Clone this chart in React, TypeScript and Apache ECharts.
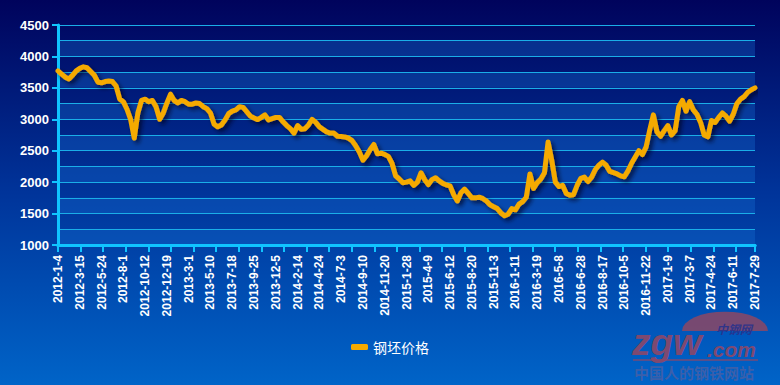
import React, { useEffect, useRef } from "react";
import * as echarts from "echarts";

const tickLabels = [
  "2012-1-4", "2012-3-15", "2012-5-24", "2012-8-1", "2012-10-12", "2012-12-19",
  "2013-3-1", "2013-5-10", "2013-7-18", "2013-9-25", "2013-12-5", "2014-2-14",
  "2014-4-24", "2014-7-3", "2014-9-10", "2014-11-20", "2015-1-28", "2015-4-9",
  "2015-6-12", "2015-8-20", "2015-11-3", "2016-1-11", "2016-3-19", "2016-5-8",
  "2016-6-28", "2016-8-17", "2016-10-5", "2016-11-22", "2017-1-9", "2017-3-7",
  "2017-4-24", "2017-6-11", "2017-7-29",
];

const pointsPerLabel = 6;

const prices = [
  3770, 3720, 3670, 3640, 3700, 3770, 3810, 3835, 3820, 3760,
  3700, 3590, 3580, 3600, 3610, 3600, 3530, 3320, 3280, 3160,
  3000, 2700, 3100, 3300, 3320, 3280, 3300, 3200, 3000, 3100,
  3260, 3400, 3300, 3260, 3300, 3280, 3240, 3240, 3260, 3250,
  3200, 3170, 3100, 2920, 2880, 2910, 2990, 3090, 3130, 3150,
  3200, 3190, 3120, 3050, 3020, 2995, 3030, 3070, 2990, 3010,
  3030, 3030, 2960, 2900, 2850, 2780, 2900, 2840, 2850, 2910,
  3000, 2950, 2880, 2840, 2800, 2780, 2780, 2730, 2725, 2720,
  2700, 2660, 2580, 2480, 2350, 2420, 2520, 2600, 2450, 2460,
  2440, 2410, 2300, 2100, 2050, 1990, 2000, 2020, 1950, 2000,
  2150, 2040, 1960, 2040, 2070, 2020, 1980, 1955, 1940, 1800,
  1700, 1830, 1890, 1820, 1750, 1750, 1760, 1740, 1700, 1640,
  1610, 1580, 1510, 1465, 1490, 1580, 1560, 1650, 1690, 1760,
  2130, 1900, 1990, 2050, 2150, 2640, 2350, 2000, 1930, 1950,
  1820, 1790, 1800, 1950, 2060, 2080, 2010, 2080, 2200, 2270,
  2320, 2270, 2170, 2150, 2130, 2100, 2085, 2180, 2300, 2400,
  2500, 2440, 2560, 2830, 3070, 2800, 2730, 2820, 2900, 2750,
  2820, 3200, 3300, 3130, 3280, 3150, 3080, 2950, 2750, 2720,
  2980, 2950, 3030, 3100, 3050, 2970, 3080, 3250, 3320, 3360,
  3430, 3470, 3500,
];

const seriesName = "钢坯价格";
const tickMarkSpan = 30.84; // x-axis tick marks are spaced independently of the labels

export default function App() {
  const ref = useRef<HTMLDivElement>(null);
  useEffect(() => {
    if (!ref.current) return;
    const chart = echarts.init(ref.current, null, { renderer: "svg" });
    const lastIndex = prices.length - 1;
    const cyan = "#10c4ff";
    const grid = "#1aaee8";
    const option: any = {
      animation: false,
      backgroundColor: new echarts.graphic.LinearGradient(0, 0, 0, 1, [
        { offset: 0, color: "#00035c" },
        { offset: 0.5, color: "#00349a" },
        { offset: 1, color: "#0064c8" },
      ]),
      grid: { left: 58, right: 25, top: 25, bottom: 140, containLabel: false },
      legend: {
        data: [seriesName],
        bottom: 26,
        left: "center",
        icon: "roundRect",
        itemWidth: 17,
        itemHeight: 6,
        textStyle: { color: "#ffffff", fontSize: 14, fontFamily: "Noto Sans CJK SC" },
      },
      xAxis: [
        {
          type: "value",
          min: 0,
          max: lastIndex,
          interval: pointsPerLabel,
          axisLine: { show: true, lineStyle: { color: cyan, width: 3 } },
          axisTick: { show: false },
          splitLine: { show: false },
          axisLabel: {
            rotate: 90,
            margin: 10,
            color: "#ffffff",
            fontWeight: "bold",
            fontSize: 12,
            fontFamily: "Liberation Sans, Arial, sans-serif",
            showMinLabel: true,
            showMaxLabel: true,
            formatter: (v: number) => tickLabels[Math.round(v / pointsPerLabel)] ?? "",
          },
        },
        {
          type: "value",
          position: "bottom",
          min: 0,
          max: tickMarkSpan,
          interval: 1,
          axisLine: { show: true, lineStyle: { color: cyan, width: 3 } },
          axisLabel: { show: false },
          splitLine: { show: false },
          axisTick: {
            show: true,
            length: 7,
            lineStyle: { color: cyan, width: 2 },
          },
        },
      ],
      yAxis: [
        {
          type: "value",
          min: 1000,
          max: 4500,
          interval: 250,
          axisLine: { show: false },
          axisTick: { show: false },
          axisLabel: { show: false },
          splitLine: { show: true, lineStyle: { color: grid, width: 1.2 } },
          splitArea: {
            show: true,
            areaStyle: { color: ["rgba(20,110,210,0.35)", "rgba(0,0,0,0)"] },
          },
        },
        {
          type: "value",
          min: 1000,
          max: 4500,
          interval: 500,
          position: "left",
          axisLine: { show: true, lineStyle: { color: cyan, width: 3 } },
          axisTick: { show: true, length: 6, lineStyle: { color: cyan, width: 2 } },
          splitLine: { show: false },
          axisLabel: {
            color: "#ffffff",
            fontWeight: "bold",
            fontSize: 13,
            margin: 9,
            fontFamily: "Liberation Sans, Arial, sans-serif",
            formatter: (v: number) => String(v),
          },
        },
      ],
      series: [
        {
          name: seriesName,
          type: "line",
          xAxisIndex: 0,
          yAxisIndex: 0,
          showSymbol: false,
          symbol: "none",
          data: prices.map((v, i) => [i, v]),
          itemStyle: { color: "#f5aa00" },
          lineStyle: {
            color: "#f5aa00",
            width: 5,
            join: "round",
            cap: "round",
            shadowColor: "rgba(0,0,30,0.65)",
            shadowBlur: 4,
            shadowOffsetX: 3,
            shadowOffsetY: 3,
          },
        },
      ],
      graphic: [
        {
          type: "sector",
          x: 725,
          y: 331,
          scaleY: 0.45,
          shape: { cx: 0, cy: 0, r: 43, startAngle: Math.PI, endAngle: Math.PI * 2 },
          style: { fill: "rgba(140,72,100,0.85)" },
          silent: true,
        },
        {
          type: "text",
          x: 632,
          y: 325,
          style: {
            text: "zgw",
            fill: "rgba(140,72,105,0.92)",
            font: "italic bold 37px Liberation Sans, Arial, sans-serif",
            lineHeight: 34,
          },
          silent: true,
        },
        {
          type: "text",
          x: 707,
          y: 340,
          style: {
            text: ".com",
            fill: "rgba(140,72,105,0.92)",
            font: "italic bold 21px Liberation Sans, Arial, sans-serif",
            lineHeight: 19,
          },
          silent: true,
        },
        {
          type: "text",
          x: 716,
          y: 322,
          style: {
            text: "中钢网",
            fill: "rgba(40,50,140,0.9)",
            font: "italic bold 12px Noto Sans CJK SC",
            lineHeight: 12,
          },
          silent: true,
        },
        {
          type: "line",
          shape: { x1: 633, y1: 360, x2: 758, y2: 360 },
          style: { stroke: "rgba(140,72,105,0.85)", lineWidth: 1.5 },
          silent: true,
        },
        {
          type: "text",
          x: 634,
          y: 365,
          style: {
            text: "中国人的钢铁网站",
            fill: "rgba(70,95,165,0.85)",
            font: "bold 15px Noto Sans CJK SC",
            lineHeight: 15,
          },
          silent: true,
        },
      ],
    };
    chart.setOption(option);
    return () => chart.dispose();
  }, []);
  return (
    <div
      ref={ref}
      style={{ position: "fixed", left: 0, top: 0, width: 780, height: 385 }}
    />
  );
}
